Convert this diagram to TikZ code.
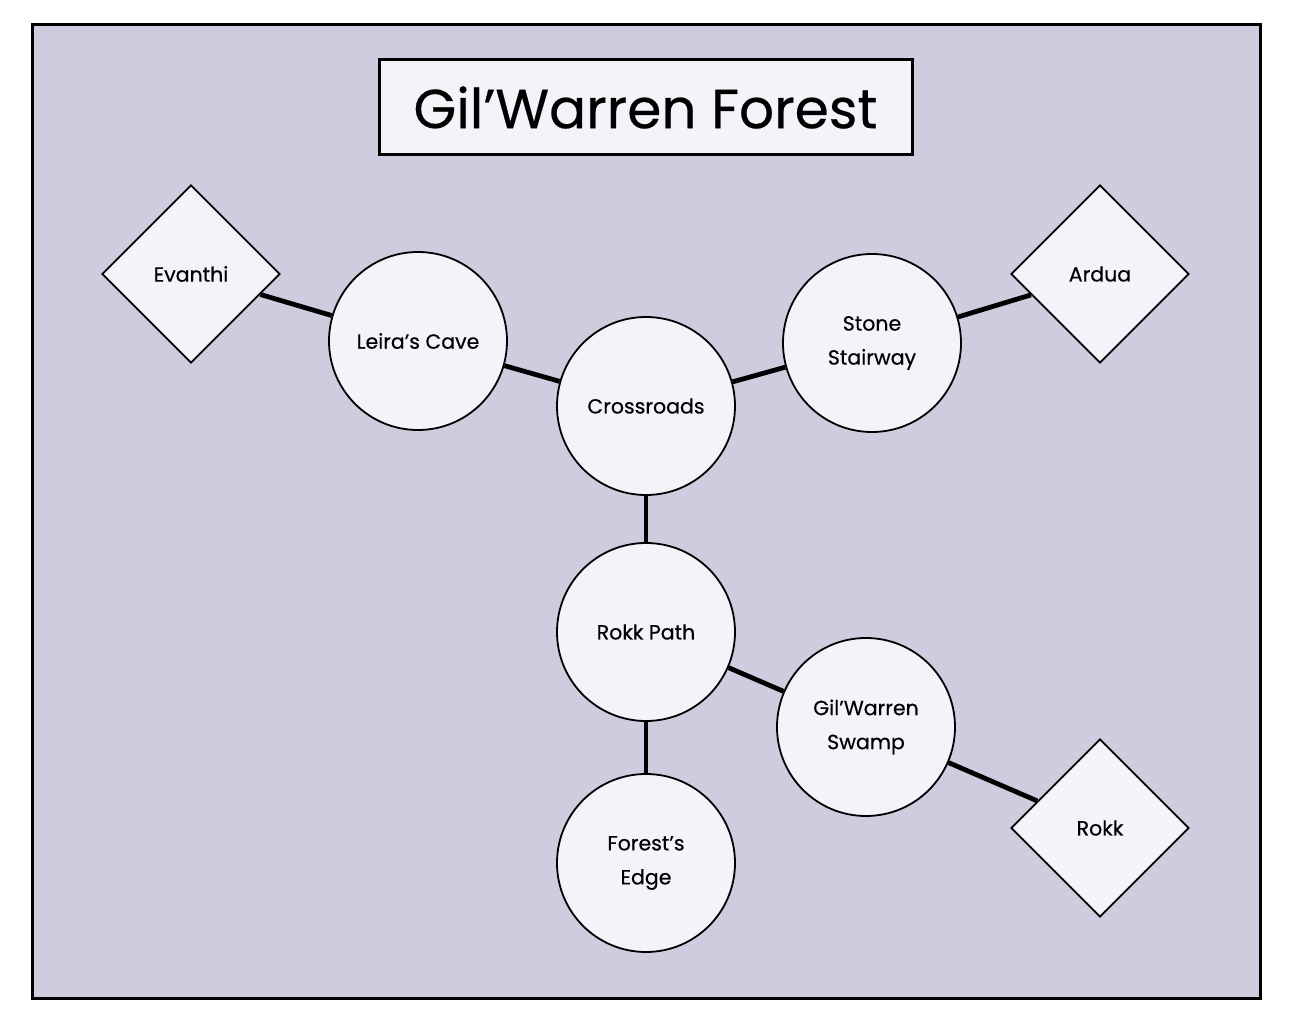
\documentclass[tikz,border=0pt]{standalone}
\usepackage{fontspec}
\setmainfont{Poppins}
\newfontfamily\nodefont[FakeBold=0.4]{Poppins}
\usetikzlibrary{shapes.geometric}
\definecolor{bglav}{HTML}{D1CBDF}
\definecolor{nodefill}{HTML}{F5F3F9}
\begin{document}
\begin{tikzpicture}[x=1pt,y=-1pt,
  place/.style={circle,draw=black,line width=1.8pt,fill=nodefill,minimum size=178pt,inner sep=0pt,align=center,font=\nodefont\fontsize{20.5}{34}\selectfont},
  realm/.style={diamond,draw=black,line width=1.8pt,fill=nodefill,minimum size=178pt,inner sep=0pt,align=center,font=\nodefont\fontsize{20.5}{34}\selectfont},
  link/.style={line width=4.8pt,black}]
\useasboundingbox (0,0) rectangle (1291,1027);
\fill[white] (0,0) rectangle (1291,1027);
\draw[line width=3pt,fill=bglav] (32,25) rectangle (1260,998);
\node[draw=black,line width=3pt,fill=nodefill,minimum width=533pt,minimum height=95pt,inner sep=0pt,font=\nodefont\fontsize{55}{60}\selectfont] (title) at (645.5,107.5) {Gil’Warren Forest};
\node[realm] (evanthi) at (191,274) {Evanthi};
\node[realm] (ardua) at (1100,274) {Ardua};
\node[realm] (rokk) at (1100,828) {Rokk};
\node[place] (leira) at (418,341) {Leira’s Cave};
\node[place] (cross) at (646,406) {Crossroads};
\node[place] (stone) at (872,343) {Stone\\Stairway};
\node[place] (rpath) at (646,632) {Rokk Path};
\node[place] (swamp) at (866,727) {Gil’Warren\\Swamp};
\node[place] (edge) at (646,863) {Forest’s\\Edge};
\draw[link] (evanthi) -- (leira);
\draw[link] (leira) -- (cross);
\draw[link] (cross) -- (stone);
\draw[link] (stone) -- (ardua);
\draw[link] (cross) -- (rpath);
\draw[link] (rpath) -- (swamp);
\draw[link] (swamp) -- (rokk);
\draw[link] (rpath) -- (edge);
\end{tikzpicture}
\end{document}
